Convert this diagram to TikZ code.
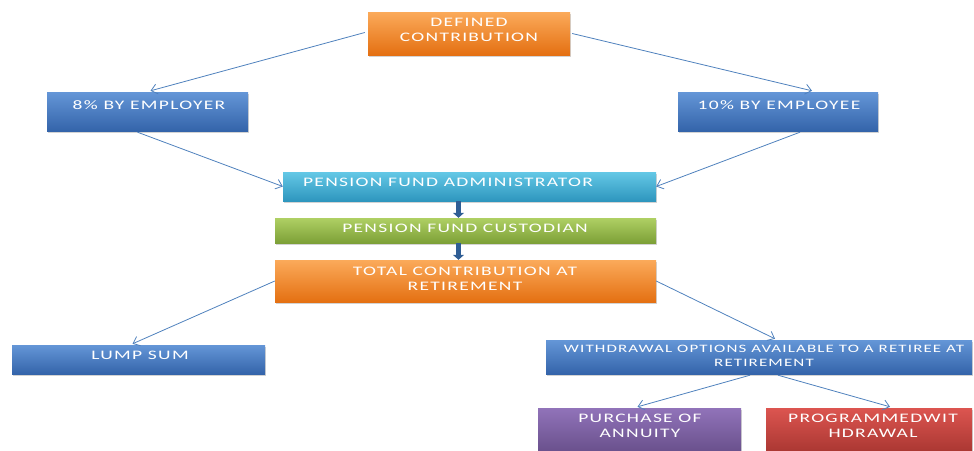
\documentclass[tikz,border=0pt]{standalone}
\usepackage{fontspec}
\setmainfont{Carlito}[FakeStretch=1.5,LetterSpace=10]
\usetikzlibrary{arrows.meta,shadows,calc}
\definecolor{ln}{HTML}{4F81BD}
\definecolor{thk}{HTML}{2F5E95}
\tikzset{
  box/.style={rectangle, inner sep=0pt, draw=none,
    drop shadow={opacity=0.35, shadow xshift=1pt, shadow yshift=-2pt}},
  og/.style={box, top color={rgb,255:red,251;green,170;blue,90}, middle color={rgb,255:red,247;green,150;blue,60}, bottom color={rgb,255:red,228;green,112;blue,18}},
  bl/.style={box, top color={rgb,255:red,100;green,150;blue,215}, middle color={rgb,255:red,74;green,126;blue,196}, bottom color={rgb,255:red,52;green,100;blue,170}},
  cy/.style={box, top color={rgb,255:red,100;green,200;blue,230}, middle color={rgb,255:red,72;green,178;blue,214}, bottom color={rgb,255:red,46;green,150;blue,190}},
  gr/.style={box, top color={rgb,255:red,175;green,208;blue,100}, middle color={rgb,255:red,155;green,190;blue,80}, bottom color={rgb,255:red,125;green,160;blue,55}},
  pu/.style={box, top color={rgb,255:red,145;green,115;blue,185}, middle color={rgb,255:red,128;green,100;blue,165}, bottom color={rgb,255:red,105;green,80;blue,140}},
  rd/.style={box, top color={rgb,255:red,220;green,85;blue,80}, middle color={rgb,255:red,200;green,70;blue,65}, bottom color={rgb,255:red,170;green,55;blue,50}},
  txt/.style={text=white, align=center, inner sep=0pt, font=\fontsize{13}{15.5}\selectfont},
  thin/.style={draw=ln, line width=0.8pt, -{Straight Barb[length=6pt,width=10pt]}},
  thick/.style={draw=thk, line width=5pt, -{Triangle[length=5pt,width=11pt]}},
}
\begin{document}
\begin{tikzpicture}[x=1pt,y=-1pt]
\useasboundingbox (0,0) rectangle (974,450);
% boxes
\node[og, minimum width=202, minimum height=43] (dc) at (469,33.5) {};
\node[bl, minimum width=201, minimum height=39] (emp) at (147.5,111.5) {};
\node[bl, minimum width=200, minimum height=39] (emp2) at (778,111.5) {};
\node[cy, minimum width=373, minimum height=29] (pfa) at (469.5,186.5) {};
\node[gr, minimum width=381, minimum height=25] (pfc) at (465.5,230.5) {};
\node[og, minimum width=381, minimum height=42] (tot) at (465.5,281) {};
\node[bl, minimum width=253, minimum height=29] (lump) at (138.5,359.5) {};
\node[bl, minimum width=426, minimum height=34] (wd) at (759,357) {};
\node[pu, minimum width=203, minimum height=44] (pur) at (639.5,430) {};
\node[rd, minimum width=206, minimum height=44] (prog) at (869,430) {};
% texts
\node[txt] (dct) at (469,30) {DEFINED\\CONTRIBUTION};
\node[txt] (empt) at (149,105) {8\% BY EMPLOYER};
\node[txt] (emp2t) at (779,105) {10\% BY EMPLOYEE};
\node[txt] (pfat) at (448,182) {PENSION FUND ADMINISTRATOR};
\node[txt] (pfct) at (465,228) {PENSION FUND CUSTODIAN};
\node[txt] (tott) at (465,279) {TOTAL CONTRIBUTION AT\\RETIREMENT};
\node[txt] (lumpt) at (140,355) {LUMP SUM};
\node[txt, font=\fontsize{11.3}{14}\selectfont] (wdt) at (764,356) {WITHDRAWAL OPTIONS AVAILABLE TO A RETIREE AT\\RETIREMENT};
\node[txt] (purt) at (640,426) {PURCHASE OF\\ANNUITY};
\node[txt] (progt) at (873,426) {PROGRAMMEDWIT\\HDRAWAL};
% connectors
\draw[thin] ($(dc.west)+(-3,-1)$) -- ($(emp.north)+(3,-1)$);
\draw[thin] ($(dc.east)+(2,0)$) -- ($(emp2.north)+(34,-1)$);
\draw[thin] ($(emp.south)+(-10,1)$) -- ($(pfa.west)+(0,0)$);
\draw[thin] ($(emp2.south)+(22,1)$) -- ($(pfa.east)+(0,0)$);
\draw[thick] ($(pfa.south)+(-11,0)$) -- ($(pfc.north)+(-7,0)$);
\draw[thick] ($(pfc.south)+(-7,0)$) -- ($(tot.north)+(-7,0)$);
\draw[thin] ($(tot.west)+(0,0)$) -- ($(lump.north)+(-6,-1)$);
\draw[thin] ($(tot.east)+(0,0)$) -- ($(wd.north)+(16,-1)$);
\draw[thin] ($(wd.south)+(-9,1)$) -- ($(pur.north)+(-2,-1)$);
\draw[thin] ($(wd.south)+(19,1)$) -- ($(prog.north)+(21,-1)$);
\end{tikzpicture}
\end{document}
